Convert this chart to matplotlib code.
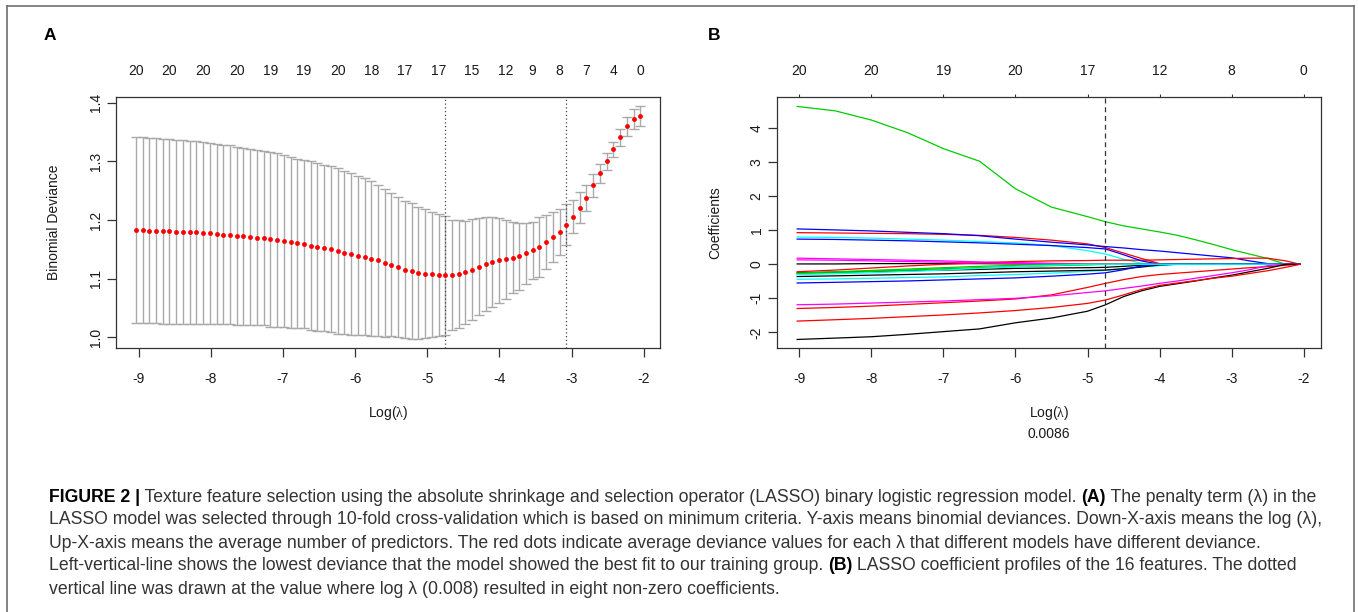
import numpy as np
import matplotlib.pyplot as plt
from matplotlib.lines import Line2D

plt.rcParams['font.family'] = ['Liberation Sans', 'DejaVu Sans']
plt.rcParams['axes.unicode_minus'] = False
plt.rcParams['mathtext.fontset'] = 'custom'
plt.rcParams['mathtext.rm'] = 'Liberation Serif'

# ---- panel A: cross-validated binomial deviance over the lambda path ----
# glmnet lambda grid (76 steps, evenly spaced in log)
log_lambda = np.linspace(-9.04, -2.047, 76)
cv_mean = [1.183, 1.183, 1.182, 1.182, 1.181, 1.181, 1.180, 1.180, 1.179, 1.179,
           1.178, 1.177, 1.176, 1.175, 1.175, 1.173, 1.172, 1.171, 1.170, 1.169,
           1.167, 1.166, 1.164, 1.162, 1.160, 1.159, 1.156, 1.154, 1.152, 1.150,
           1.147, 1.144, 1.142, 1.139, 1.137, 1.134, 1.131, 1.127, 1.124, 1.120,
           1.1155, 1.113, 1.110, 1.108, 1.107, 1.1056, 1.1053, 1.106, 1.108, 1.111,
           1.1155, 1.120, 1.125, 1.128, 1.131, 1.133, 1.136, 1.138, 1.143, 1.148,
           1.154, 1.163, 1.171, 1.180, 1.192, 1.206, 1.221, 1.238, 1.259, 1.280,
           1.300, 1.321, 1.341, 1.360, 1.373, 1.377]
cv_sd = [0.158, 0.158, 0.158, 0.158, 0.158, 0.158, 0.157, 0.157, 0.156, 0.156,
         0.155, 0.155, 0.154, 0.153, 0.153, 0.152, 0.151, 0.151, 0.150, 0.149,
         0.149, 0.148, 0.147, 0.146, 0.145, 0.144, 0.144, 0.143, 0.142, 0.142,
         0.141, 0.139, 0.138, 0.136, 0.134, 0.132, 0.129, 0.126, 0.122, 0.119,
         0.117, 0.116, 0.113, 0.110, 0.107, 0.104, 0.102, 0.094, 0.092, 0.088,
         0.086, 0.083, 0.080, 0.077, 0.072, 0.067, 0.061, 0.057, 0.052, 0.049,
         0.051, 0.046, 0.042, 0.039, 0.035, 0.029, 0.026, 0.022, 0.019, 0.016,
         0.014, 0.013, 0.014, 0.016, 0.017, 0.017]
idx_min, idx_1se = 46, 64
top_idx = [0, 5, 10, 15, 20, 25, 30, 35, 40, 45, 50, 55, 59, 63, 67, 71, 75]
top_nz = [20, 20, 20, 20, 19, 19, 20, 18, 17, 17, 15, 12, 9, 8, 7, 4, 0]

# ---- panel B: coefficient profiles ----
xb = [-9.03, -8.5, -8.0, -7.5, -7.0, -6.5, -6.0, -5.5, -5.0, -4.75, -4.5,
      -4.25, -4.0, -3.75, -3.5, -3.25, -3.0, -2.75, -2.5, -2.25, -2.05]
green_1 = [4.64, 4.51, 4.24, 3.87, 3.40, 3.03, 2.22, 1.68, 1.40, 1.25, 1.13,
           1.04, 0.95, 0.85, 0.72, 0.58, 0.43, 0.30, 0.17, 0.0, 0.0]
blue_1 = [1.04, 1.01, 0.98, 0.94, 0.90, 0.84, 0.74, 0.65, 0.57, 0.52, 0.48,
          0.43, 0.39, 0.34, 0.29, 0.24, 0.19, 0.10, 0.02, 0.0, 0.0]
red_1 = [0.93, 0.92, 0.91, 0.90, 0.88, 0.85, 0.79, 0.71, 0.60, 0.49, 0.33,
         0.17, 0.02, 0.0, 0.0, 0.0, 0.0, 0.0, 0.0, 0.0, 0.0]
cyan_1 = [0.80, 0.79, 0.77, 0.74, 0.71, 0.67, 0.63, 0.55, 0.40, 0.30, 0.15,
          0.03, 0.0, 0.0, 0.0, 0.0, 0.0, 0.0, 0.0, 0.0, 0.0]
blue_2 = [0.74, 0.73, 0.71, 0.69, 0.66, 0.63, 0.59, 0.55, 0.49, 0.45, 0.28,
          0.10, 0.0, 0.0, 0.0, 0.0, 0.0, 0.0, 0.0, 0.0, 0.0]
magenta_1 = [0.18, 0.16, 0.14, 0.12, 0.10, 0.07, 0.05, 0.03, 0.01, 0.0, 0.0,
             0.0, 0.0, 0.0, 0.0, 0.0, 0.0, 0.0, 0.0, 0.0, 0.0]
magenta_2 = [0.13, 0.12, 0.10, 0.08, 0.06, 0.04, 0.02, 0.01, 0.0, 0.0, 0.0,
             0.0, 0.0, 0.0, 0.0, 0.0, 0.0, 0.0, 0.0, 0.0, 0.0]
black_1 = [0.01, 0.01, 0.02, 0.02, 0.02, 0.02, 0.01, 0.0, 0.0, 0.0, 0.0,
           0.0, 0.0, 0.0, 0.0, 0.0, 0.0, 0.0, 0.0, 0.0, 0.0]
red_2 = [-0.22, -0.17, -0.11, -0.05, 0.0, 0.04, 0.08, 0.10, 0.11, 0.12, 0.12,
         0.12, 0.13, 0.14, 0.15, 0.16, 0.17, 0.18, 0.18, 0.10, 0.0]
black_2 = [-0.25, -0.23, -0.21, -0.19, -0.17, -0.15, -0.12, -0.11, -0.10, -0.09, -0.06,
           -0.03, 0.0, 0.0, 0.0, 0.0, 0.0, 0.0, 0.0, 0.0, 0.0]
green_2 = [-0.28, -0.25, -0.21, -0.17, -0.13, -0.10, -0.07, -0.04, -0.02, 0.0, 0.0,
           0.0, 0.0, 0.0, 0.0, 0.0, 0.0, 0.0, 0.0, 0.0, 0.0]
green_3 = [-0.26, -0.22, -0.18, -0.14, -0.10, -0.06, -0.03, 0.0, 0.0, 0.0, 0.0,
           0.0, 0.0, 0.0, 0.0, 0.0, 0.0, 0.0, 0.0, 0.0, 0.0]
black_3 = [-0.36, -0.34, -0.32, -0.30, -0.28, -0.25, -0.22, -0.20, -0.18, -0.17, -0.13,
           -0.08, -0.02, 0.0, 0.0, 0.0, 0.0, 0.0, 0.0, 0.0, 0.0]
cyan_2 = [-0.44, -0.43, -0.41, -0.39, -0.37, -0.33, -0.30, -0.26, -0.21, -0.18, -0.13,
          -0.08, -0.04, 0.0, 0.0, 0.0, 0.0, 0.0, 0.0, 0.0, 0.0]
cyan_3 = [-0.30, -0.28, -0.25, -0.21, -0.17, -0.12, -0.07, -0.03, 0.0, 0.0, 0.0,
          0.0, 0.0, 0.0, 0.0, 0.0, 0.0, 0.0, 0.0, 0.0, 0.0]
blue_3 = [-0.55, -0.53, -0.51, -0.49, -0.46, -0.43, -0.40, -0.35, -0.29, -0.25, -0.16,
          -0.05, 0.0, 0.0, 0.0, 0.0, 0.0, 0.0, 0.0, 0.0, 0.0]
magenta_3 = [-1.19, -1.17, -1.14, -1.11, -1.08, -1.04, -1.00, -0.93, -0.83, -0.78, -0.71,
             -0.64, -0.56, -0.49, -0.41, -0.33, -0.25, -0.16, -0.04, 0.0, 0.0]
red_3 = [-1.30, -1.27, -1.23, -1.18, -1.13, -1.08, -1.02, -0.90, -0.68, -0.56, -0.45,
         -0.36, -0.30, -0.26, -0.22, -0.18, -0.14, -0.10, -0.07, -0.03, 0.0]
red_4 = [-1.67, -1.63, -1.59, -1.54, -1.49, -1.43, -1.36, -1.27, -1.15, -1.05, -0.90,
         -0.74, -0.62, -0.55, -0.48, -0.41, -0.35, -0.27, -0.19, -0.09, 0.0]
black_4 = [-2.21, -2.17, -2.13, -2.06, -1.98, -1.90, -1.72, -1.58, -1.38, -1.19, -0.95,
           -0.78, -0.65, -0.57, -0.49, -0.40, -0.32, -0.22, -0.12, 0.0, 0.0]
top_b_ticks = [-9, -8, -7, -6, -5, -4, -3, -2]
top_b_nz = [20, 20, 19, 20, 17, 12, 8, 0]

# R's old palette colours
R_BLACK, R_RED, R_GREEN, R_BLUE, R_CYAN, R_MAGENTA = (
    'black', '#FF0000', '#00CD00', '#0000FF', '#00FFFF', '#FF00FF')
profiles = [
    (black_1, R_BLACK), (red_1, R_RED), (green_1, R_GREEN), (blue_1, R_BLUE),
    (cyan_1, R_CYAN), (magenta_1, R_MAGENTA), (black_2, R_BLACK), (red_2, R_RED),
    (green_2, R_GREEN), (blue_2, R_BLUE), (cyan_2, R_CYAN), (magenta_2, R_MAGENTA),
    (black_3, R_BLACK), (red_3, R_RED), (green_3, R_GREEN), (blue_3, R_BLUE),
    (cyan_3, R_CYAN), (magenta_3, R_MAGENTA), (black_4, R_BLACK), (red_4, R_RED),
]

W, H = 1358, 612
fig = plt.figure(figsize=(W / 100, H / 100), dpi=100)
fig.patch.set_facecolor('white')

AX_COL = '#333333'
TXT_COL = '#1a1a1a'


def style_axes(ax):
    for s in ax.spines.values():
        s.set_color(AX_COL)
        s.set_linewidth(0.9)
    ax.tick_params(direction='out', length=6.8, width=0.9, color=AX_COL,
                   labelsize=10, labelcolor=TXT_COL)
    ax.tick_params(axis='x', pad=10.5)
    ax.tick_params(axis='y', pad=2.6)


# ---------------- panel A ----------------
axA = fig.add_axes([116 / W, 1 - 348.3 / H, 544 / W, 251.1 / H])
axA.errorbar(log_lambda, cv_mean, yerr=cv_sd, fmt='none', ecolor='#a9a9a9',
             elinewidth=1.0, capsize=3.6, capthick=1.0, zorder=1)
axA.plot(log_lambda, cv_mean, 'o', color='#FF0000', ms=3.5, mew=0, zorder=3)
for i in (idx_min, idx_1se):
    axA.axvline(log_lambda[i], color='#444444', lw=0.9, ls=(0, (1, 2)), zorder=2)
axA.set_xlim(-9.315, -1.774)
axA.set_ylim(0.981, 1.4097)
axA.set_xticks(range(-9, -1))
axA.set_yticks([1.0, 1.1, 1.2, 1.3, 1.4])
axA.set_yticklabels(['1.0', '1.1', '1.2', '1.3', '1.4'], rotation=90, va='center')
style_axes(axA)
axA.set_xlabel(r'Log($\mathrm{\lambda}$)', fontsize=10, color=TXT_COL, labelpad=13)
axA.set_ylabel('Binomial Deviance', fontsize=10, color=TXT_COL, labelpad=20)
topA = axA.secondary_xaxis('top')
topA.set_xticks(log_lambda[top_idx], labels=[str(n) for n in top_nz])
topA.tick_params(length=0, pad=13.5, labelsize=10, labelcolor=TXT_COL)
topA.spines['top'].set_visible(False)

# ---------------- panel B ----------------
axB = fig.add_axes([776.7 / W, 1 - 348.3 / H, 544 / W, 251.1 / H])
for vals, col in profiles:
    axB.plot(xb, vals, color=col, lw=0.9, solid_joinstyle='round')
axB.axvline(log_lambda[idx_min], color='#333333', lw=0.9, ls=(0, (4, 3)))
axB.set_xlim(-9.314, -1.764)
axB.set_ylim(-2.47, 4.912)
axB.set_xticks(range(-9, -1))
axB.set_yticks(range(-2, 5))
axB.set_yticklabels([str(v) for v in range(-2, 5)], rotation=90, va='center')
style_axes(axB)
axB.set_xlabel(r'Log($\mathrm{\lambda}$)', fontsize=10, color=TXT_COL, labelpad=13)
axB.set_ylabel('Coefficients', fontsize=10, color=TXT_COL, labelpad=20)
axB.text(0.5, -0.3425, '0.0086', transform=axB.transAxes, ha='center', va='center',
         fontsize=10, color=TXT_COL)
topB = axB.secondary_xaxis('top')
topB.set_xticks(top_b_ticks, labels=[str(n) for n in top_b_nz])
topB.tick_params(length=2, width=0.8, color=AX_COL, pad=11.5, labelsize=10,
                 labelcolor=TXT_COL)
topB.spines['top'].set_visible(False)

# panel letters
fig.text(50 / W, 1 - 35 / H, 'A', ha='center', va='center', fontsize=12.5,
         fontweight='bold', color='black')
fig.text(714 / W, 1 - 35 / H, 'B', ha='center', va='center', fontsize=12.5,
         fontweight='bold', color='black')

# outer frame of the figure
FRAME = '#6e6e6e'
fig.add_artist(Line2D([7 / W, 7 / W], [0, 1 - 6 / H], color=FRAME, lw=1.2))
fig.add_artist(Line2D([7 / W, 1354 / W], [1 - 6 / H, 1 - 6 / H], color=FRAME, lw=1.2))
fig.add_artist(Line2D([1354 / W, 1354 / W], [0, 1 - 6 / H], color=FRAME, lw=1.2))

# ---------------- caption ----------------
caption = [
    [("FIGURE 2 |", True),
     (" Texture feature selection using the absolute shrinkage and selection operator "
      "(LASSO) binary logistic regression model. ", False),
     ("(A)", True), (" The penalty term (\u03bb) in the", False)],
    [("LASSO model was selected through 10-fold cross-validation which is based on "
      "minimum criteria. Y-axis means binomial deviances. Down-X-axis means the log (\u03bb),",
      False)],
    [("Up-X-axis means the average number of predictors. The red dots indicate average "
      "deviance values for each \u03bb that different models have different deviance.", False)],
    [("Left-vertical-line shows the lowest deviance that the model showed the best fit to "
      "our training group. ", False), ("(B)", True),
     (" LASSO coefficient profiles of the 16 features. The dotted", False)],
    [("vertical line was drawn at the value where log \u03bb (0.008) resulted in eight "
      "non-zero coefficients.", False)],
]
cap_y = [497, 520, 543, 566, 589]
cap_x0, cap_x1 = 49, 1326
CAP_COL = '#333333'

renderer = fig.canvas.get_renderer()


def text_width(s, bold, size):
    # pad with X so spaces at the ends are counted
    t = fig.text(0, 0, 'X' + s + 'X', fontsize=size,
                 fontweight='bold' if bold else 'normal')
    t2 = fig.text(0, 0, 'XX', fontsize=size, fontweight='bold' if bold else 'normal')
    w = t.get_window_extent(renderer).width - t2.get_window_extent(renderer).width
    t.remove()
    t2.remove()
    return w


ref_size = 12
cap_size = ref_size * (cap_x1 - cap_x0) / text_width(caption[1][0][0], False, ref_size)

for parts, y in zip(caption, cap_y):
    x = cap_x0
    for s, bold in parts:
        fig.text(x / W, 1 - y / H, s, fontsize=cap_size, ha='left', va='center',
                 fontweight='bold' if bold else 'normal',
                 color='black' if bold else CAP_COL)
        x += text_width(s, bold, cap_size)

fig.savefig('out.png', dpi=100)
